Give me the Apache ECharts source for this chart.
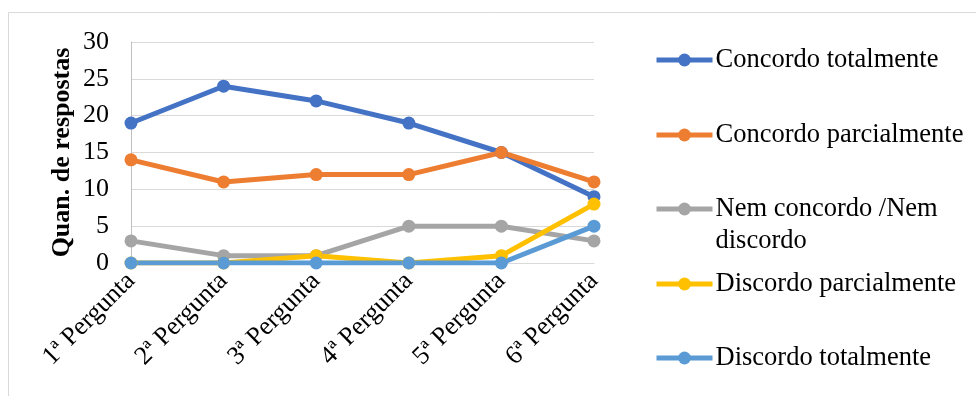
<!DOCTYPE html>
<html><head><meta charset="utf-8">
<script src="https://cdn.jsdelivr.net/npm/echarts@6/dist/echarts.min.js"></script>
<style>html,body{margin:0;padding:0;background:#fff}#c{width:976px;height:396px}</style>
</head><body><div id="c"></div>
<script>
const categories = ['1ª Pergunta','2ª Pergunta','3ª Pergunta','4ª Pergunta','5ª Pergunta','6ª Pergunta'];
const seriesNames = ['Concordo totalmente','Concordo parcialmente','Nem concordo /Nem discordo','Discordo parcialmente','Discordo totalmente'];
const concordoTotalmente = [19, 24, 22, 19, 15, 9];
const concordoParcialmente = [14, 11, 12, 12, 15, 11];
const nemConcordoNemDiscordo = [3, 1, 1, 5, 5, 3];
const discordoParcialmente = [0, 0, 1, 0, 1, 8];
const discordoTotalmente = [0, 0, 0, 0, 0, 5];
const yTicks = {min: 0, max: 30, interval: 5};
const yTitle = 'Quan. de respostas';

const values = [concordoTotalmente, concordoParcialmente, nemConcordoNemDiscordo, discordoParcialmente, discordoTotalmente];
const colors = ['#4472C4','#ED7D31','#A5A5A5','#FFC000','#5B9BD5'];
const FONT = '"Liberation Serif","Times New Roman",serif';

const chart = echarts.init(document.getElementById('c'));
const legendTops = [44, 119, 161, 268, 342];
const legends = seriesNames.map((n, i) => ({
  orient: 'vertical', left: 654, top: legendTops[i], padding: 0,
  data: [n], itemWidth: 56, itemHeight: 16, itemGap: 0,
  lineStyle: {width: 5},
  formatter: (name) => name === 'Nem concordo /Nem discordo' ? '\nNem concordo /Nem\ndiscordo' : name,
  textStyle: {fontFamily: FONT, fontSize: 26.5, color: '#000', lineHeight: 32, padding: [0, 0, 0, -2]},
  selectedMode: false
}));

chart.setOption({
  animation: false,
  graphic: [{type: 'rect', shape: {x: 8.5, y: 12.5, width: 1000, height: 400}, style: {fill: 'none', stroke: '#d9d9d9', lineWidth: 1}, silent: true, z: -1}],
  grid: {left: 131, right: 382, top: 42, bottom: 133},
  legend: legends,
  xAxis: {
    type: 'category', data: categories, boundaryGap: false,
    axisLine: {lineStyle: {color: '#d9d9d9', width: 1}},
    axisTick: {show: false},
    axisLabel: {rotate: 45, margin: 14, fontFamily: FONT, fontSize: 26, color: '#000', interval: 0}
  },
  yAxis: {
    type: 'value', min: yTicks.min, max: yTicks.max, interval: yTicks.interval,
    name: yTitle, nameLocation: 'middle', nameGap: 56,
    nameTextStyle: {fontFamily: FONT, fontSize: 26, fontWeight: 'bold', color: '#000'},
    axisLine: {show: true, lineStyle: {color: '#bfbfbf', width: 1}},
    axisTick: {show: false},
    splitLine: {lineStyle: {color: '#d9d9d9', width: 1}},
    axisLabel: {margin: 22, fontFamily: FONT, fontSize: 26, color: '#000'}
  },
  series: seriesNames.map((n, i) => ({
    name: n, type: 'line', data: values[i],
    symbol: 'circle', symbolSize: 13,
    lineStyle: {color: colors[i], width: 5},
    itemStyle: {color: colors[i]},
    emphasis: {disabled: true}
  }))
});
</script></body></html>
